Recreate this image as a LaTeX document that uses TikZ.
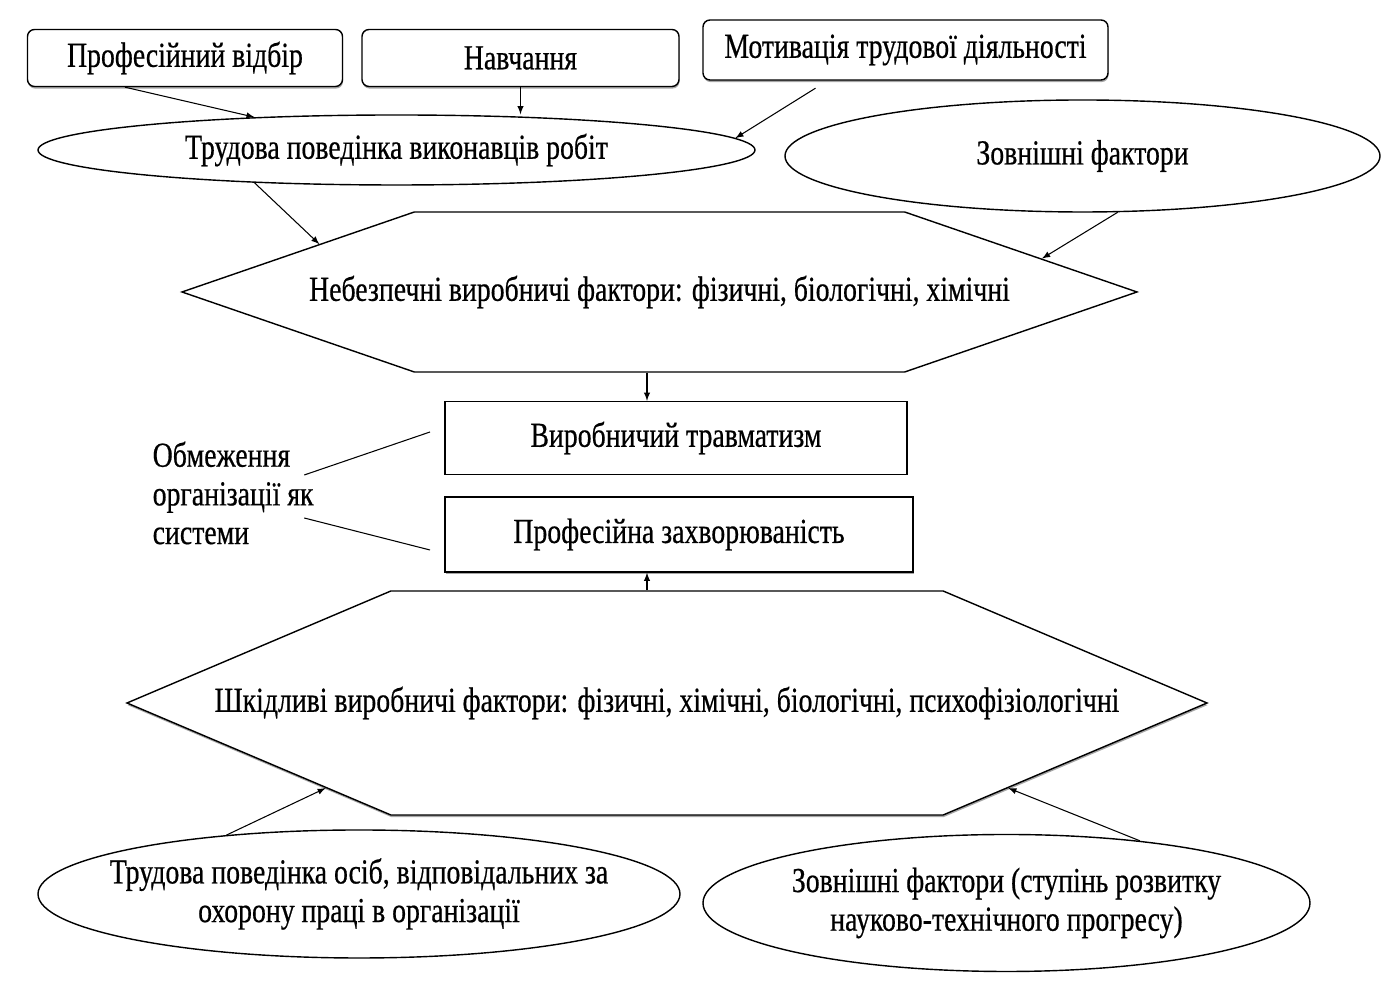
\documentclass[tikz,border=0pt]{standalone}
\usepackage{fontspec}
\setmainfont{Liberation Serif}[FakeStretch=0.79,FakeBold=0.5]
\usetikzlibrary{shapes.geometric,shapes.symbols,shadows}

\begin{document}
\begin{tikzpicture}[>=latex, thick,
  every node/.style={font=\fontsize{20}{22}\selectfont},
  shade/.style={drop shadow={shadow xshift=0.3pt, shadow yshift=-1.2pt, fill=gray!70, opacity=1}},
  box/.style={draw, fill=white, rounded corners=4pt, inner sep=0pt, shade},
  rbox/.style={draw, fill=white, inner sep=0pt},
  ell/.style={draw, ellipse, inner xsep=-2.5cm, inner ysep=-0.3cm, align=center},
  hexa/.style={draw, fill=white, signal, signal to=west and east, inner ysep=0pt}]
 \useasboundingbox (0,0) rectangle (27.64,19.98);
 % top row
 \node[box, minimum width=6.3cm, minimum height=1.14cm] (P) at (3.70,18.82) {Професійний відбір};
 \node[box, minimum width=6.34cm, minimum height=1.14cm] (N) at (10.41,18.82) {Навчання};
 \node[box, minimum width=8.1cm, minimum height=1.2cm] (M) at (18.11,18.98) {Мотивація трудової діяльності};
 \node[ell, minimum width=14.34cm, minimum height=1.4cm] (T) at (7.93,16.98) {Трудова поведінка виконавців робіт};
 \node[ell, minimum width=11.9cm, minimum height=2.24cm] (Z) at (21.65,16.86) {Зовнішні фактори};
 % hexagons and boxes
 \node[hexa, inner xsep=-3cm, signal pointer angle=38, minimum width=19.1cm, minimum height=3.2cm] (H1) at (13.19,14.14) {Небезпечні виробничі фактори: фізичні, біологічні, хімічні};
 \node[rbox, minimum width=9.24cm, minimum height=1.46cm] (V) at (13.52,11.22) {Виробничий травматизм};
 \node[rbox, shade, minimum width=9.36cm, minimum height=1.5cm] (Pz) at (13.58,9.29) {Професійна захворюваність};
 \node[hexa, shade, inner xsep=-4cm, signal pointer angle=46, minimum width=21.6cm, minimum height=4.48cm] (H2) at (13.34,5.92) {Шкідливі виробничі фактори: фізичні, хімічні, біологічні, психофізіологічні};
 % bottom row
 \node[ell, minimum width=12.84cm, minimum height=2.56cm] (O) at (7.18,2.10) {Трудова поведінка осіб, відповідальних за\\охорону праці в організації};
 \node[ell, minimum width=12.14cm, minimum height=2.74cm] (ZZ) at (20.13,1.92) {Зовнішні фактори (ступінь розвитку\\науково-технічного прогресу)};
 % side note
 \node[align=left, anchor=west, inner sep=0pt] (L) at (3.04,10.12) {Обмеження\\організації як\\системи};
 \coordinate (a1) at (8.6,11.34);
 \coordinate (a2) at (8.6,8.98);
 \draw[semithick] ([xshift=-0.2cm,yshift=0.36cm]L.east) -- (a1);
 \draw[semithick] ([xshift=-0.2cm,yshift=-0.5cm]L.east) -- (a2);
 % arrows
 \draw[semithick,->] ([xshift=-1.2cm]P.south) -- (T.167);
 \draw[semithick,->] (N.south) -- (N.south |- T.north);
 \draw[semithick,->] ([xshift=-1.8cm,yshift=-0.15cm]M.south) -- (T.2);
 \draw[semithick,->] (T.193) -- (H1.172);
 \draw[semithick,->] (Z.-58) -- (H1.5);
 \draw[semithick,->] ([xshift=-0.25cm]H1.south) -- ([xshift=-0.25cm]H1.south |- V.north);
 \draw[semithick,->] ([xshift=-0.4cm]H2.north) -- ([xshift=-0.4cm]H2.north |- Pz.south);
 \draw[semithick,->] (O.156) -- (H2.194);
 \draw[semithick,->] (ZZ.25) -- (H2.-14);
\end{tikzpicture}
\end{document}
